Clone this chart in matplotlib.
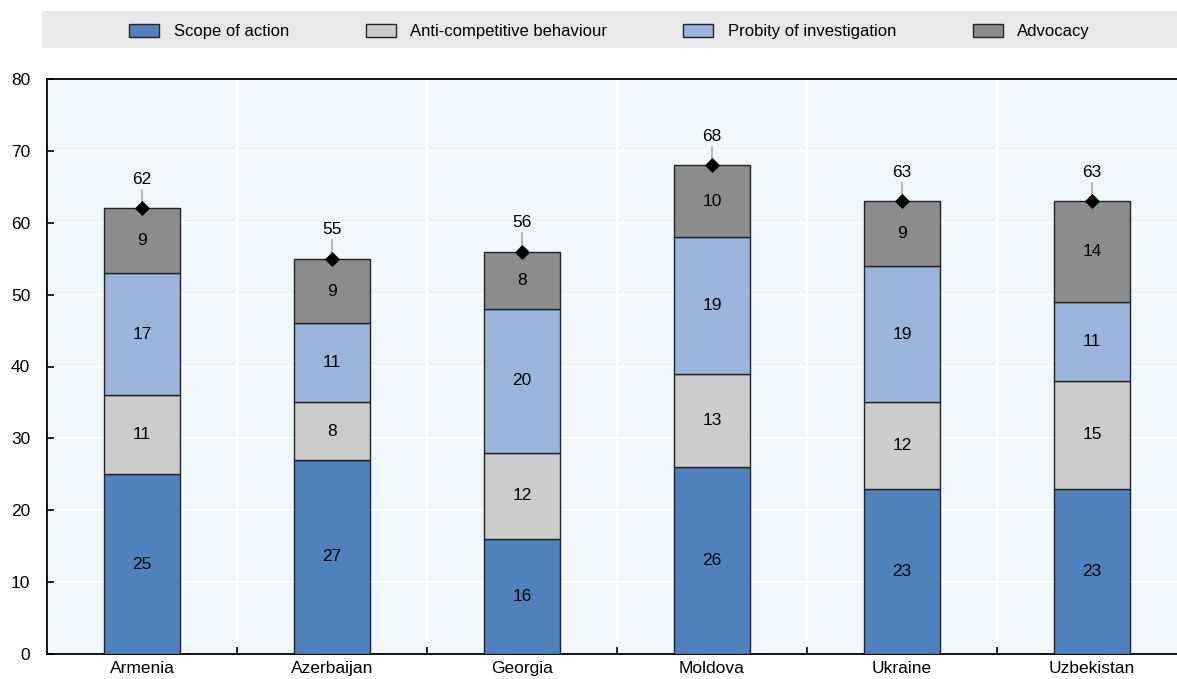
import numpy as np
import matplotlib.pyplot as plt
from matplotlib.patches import Patch

countries = ["Armenia", "Azerbaijan", "Georgia", "Moldova", "Ukraine", "Uzbekistan"]
scope = [25, 27, 16, 26, 23, 23]
anti_comp = [11, 8, 12, 13, 12, 15]
probity = [17, 11, 20, 19, 19, 11]
advocacy = [9, 9, 8, 10, 9, 14]
totals = [62, 55, 56, 68, 63, 63]

series_names = ["Scope of action", "Anti-competitive behaviour", "Probity of investigation", "Advocacy"]
colors = ["#4f81bd", "#cccccc", "#9bb4dc", "#8c8c8c"]

plt.rcParams["font.family"] = ["Liberation Sans", "DejaVu Sans"]
plt.rcParams["font.size"] = 12

W, H = 1177, 679
fig = plt.figure(figsize=(W / 100, H / 100), dpi=100)
ax = fig.add_axes([47 / W, 25 / H, 1130 / W, 575 / H])
ax.set_facecolor("#f0f7fb")

x = np.arange(len(countries))
bottom = np.zeros(len(countries))
for vals, col in zip([scope, anti_comp, probity, advocacy], colors):
    vals = np.array(vals)
    ax.bar(x, vals, 0.4, bottom=bottom, color=col, edgecolor="#222222", linewidth=1, zorder=3)
    for xi, b, v in zip(x, bottom, vals):
        ax.text(xi, b + v / 2, str(v), ha="center", va="center", fontsize=12.5, zorder=4)
    bottom += vals

# totals: diamond marker with a short leader to the label
ax.scatter(x, totals, marker="D", s=45, color="black", zorder=5)
for xi, t in zip(x, totals):
    ax.plot([xi, xi], [t, t + 2.6], color="#aaaaaa", lw=1.2, zorder=4)
    ax.text(xi, t + 3.0, str(t), ha="center", va="bottom", fontsize=12.5, zorder=4)

ax.set_ylim(0, 80)
ax.set_xlim(-0.5, 5.447)
ax.set_yticks(np.arange(0, 81, 10))
ax.yaxis.grid(True, color="white", lw=1.5, zorder=1)
for b in np.arange(0.5, 5.5, 1):
    ax.axvline(b, color="white", lw=1.5, zorder=1)
ax.set_xticks(x)
ax.set_xticklabels(countries)
ax.set_xticks(np.arange(0.5, 5.5, 1), minor=True)
ax.tick_params(axis="x", which="major", length=0, pad=5, labelsize=12.5)
ax.tick_params(axis="x", which="minor", direction="in", length=5, width=1.2)
ax.tick_params(axis="y", direction="in", length=5, width=1.2, pad=12, labelsize=12.5)
ax.spines["right"].set_visible(False)
for s in ["left", "bottom", "top"]:
    ax.spines[s].set_linewidth(1.3)
    ax.spines[s].set_color("black")

# legend band across the top
band = fig.add_axes([42 / W, 1 - 48 / H, 1135 / W, 37 / H])
band.set_facecolor("#e8e8e8")
band.set_xticks([])
band.set_yticks([])
for s in band.spines.values():
    s.set_visible(False)
handles = [Patch(facecolor=c, edgecolor="#222222", linewidth=1) for c in colors]
band.legend(handles, series_names, loc="center", ncol=4, frameon=False, fontsize=12,
            handlelength=1.8, handleheight=0.85, columnspacing=4.6, handletextpad=0.85,
            bbox_to_anchor=(0.5, 0.45))

fig.savefig("out.png", dpi=100)
